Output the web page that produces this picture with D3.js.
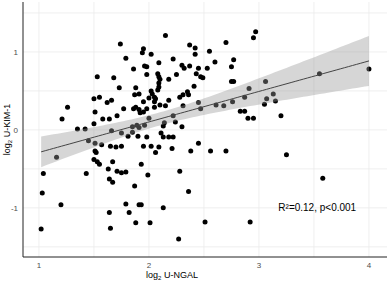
<!DOCTYPE html>
<html lang="en">
<head>
  <meta charset="UTF-8">
  <title>U-KIM-1 vs U-NGAL</title>
  <script src="https://d3js.org/d3.v7.min.js"></script>
  <style>
    body { margin: 0; background: #fff; font-family: "Liberation Sans", Arial, sans-serif; }
    .grid line { stroke: #ebebeb; stroke-width: 0.8px; }
    .tick-label { font-size: 8px; fill: #4d4d4d; }
    .axis-title { font-size: 9px; fill: #000; }
  </style>
</head>
<body>
  <svg width="387" height="281"></svg>
  <script>
    // log2 U-NGAL
    var xValues = [
      1.02, 1.03, 1.04, 1.16, 1.20, 1.21, 1.26, 1.35, 1.42, 1.43, 1.45, 1.50, 1.50, 1.51, 1.51, 1.51,
      1.53, 1.52, 1.50, 1.53, 1.55, 1.55, 1.57, 1.58, 1.62, 1.64, 1.64, 1.64, 1.65, 1.65, 1.66, 1.66,
      1.67, 1.67, 1.63, 1.68, 1.70, 1.71, 1.71, 1.73, 1.74, 1.75, 1.75, 1.75, 1.77, 1.79, 1.79, 1.79,
      1.81, 1.82,
      1.85, 1.85, 1.86, 1.86, 1.87, 1.87, 1.88, 1.88, 1.91, 1.92, 1.95, 1.88, 1.89, 1.91, 1.90, 1.91,
      1.91, 1.93, 1.93, 1.94, 1.95, 1.95, 1.95, 1.96, 1.96, 1.98, 1.98, 1.98, 1.98, 1.99, 2.00, 2.02,
      2.03, 2.05, 2.06, 2.05, 2.00, 2.01, 2.02, 2.02, 2.05, 2.06, 2.08, 2.09, 2.10, 2.09, 2.09, 2.09,
      2.08, 2.09, 2.10, 2.11, 2.13, 2.14, 2.13, 2.13, 2.15, 2.15, 2.18, 2.18, 2.18, 2.21, 2.22, 2.22,
      2.22, 2.24, 2.25, 2.27, 2.28, 2.28, 2.30, 2.32, 2.30, 2.31, 2.31, 2.35, 2.36, 2.36, 2.37, 2.37,
      2.38, 2.41, 2.42, 2.42, 2.43, 2.45, 2.45,
      2.45, 2.47, 2.49, 2.47, 2.51, 2.53, 2.55, 2.56, 2.60, 2.61, 2.68, 2.70, 2.70, 2.75, 2.76, 2.77,
      2.75, 2.77, 2.83, 2.87, 2.87, 2.90, 2.95, 2.91, 2.92, 2.95, 2.97, 3.05, 3.06, 3.07, 3.13, 3.15,
      3.20, 3.25, 3.55, 3.58, 4.00
    ];
    // log2 U-KIM-1
    var yValues = [
      -1.27, -0.81, -0.56, -0.35, -0.96, 0.14, 0.29, 0.01, 0.01, -0.56, -0.14, 0.08, 0.40, 0.23, -0.17, -0.27,
      0.68, -0.29, -0.38, -0.41, -0.44, 0.42, -0.19, 0.14, 0.35, 0.14, -0.63, -1.06, -0.21, -1.26, 0.38, -0.01,
      -0.41, -0.67, -0.50, 0.67, -0.22, 0.18, -0.53, 0.54, 1.10, -0.55, -0.04, -0.21, 0.27, 0.92, -0.54, -0.95,
      -0.08, -1.06,
      -0.03, 0.04, 0.78, 0.27, 0.45, -0.72, 0.54, 0.29, 0.26, 0.22, 0.23, -1.19, 0.06, 0.03, -0.08, 0.46,
      -0.96, -0.96, -0.44, 0.99, 1.04, 0.36, -0.21, 0.82, 0.06, 0.81, 0.71, 0.27, -0.09, -0.58, 0.41, 0.50,
      0.46, 0.42, 0.40, 0.36, 0.15, -1.19, 0.97, -0.21, 0.29, -0.29, 0.72, 0.68, 0.65, 0.86, 0.60, 0.55,
      0.51, -0.22, 0.32, -0.04, -0.09, 0.09, 0.05, -1.00, 1.21, 0.31, 0.65, 0.38, -0.09, -0.24, 0.91, 0.18,
      -0.09, 0.10, 0.71, -1.40, 0.42, -0.53, 0.83, 0.79, 0.04, 0.45, 0.31, 0.49, 0.45, -0.79, 1.09, 0.82,
      -0.27, 0.56, 1.05, 0.97, 0.72, 0.35, -0.17,
      0.79, 0.68, 0.67, 0.27, -1.18, 0.79, 1.01, -0.27, 0.87, 0.32, 0.31, 1.12, -0.27, 0.81, 0.36, 0.90,
      0.62, 0.62, 0.24, 0.24, 0.42, 0.15, 0.15, 0.53, -1.18, 1.18, 1.26, 0.33, 0.62, 0.40, 0.46, 0.37,
      0.18, -0.32, 0.72, -0.62, 0.78
    ];
    var xTicks = [1, 2, 3, 4];
    var yTicks = [-1, 0, 1];
    var xMinor = [1.5, 2.5, 3.5];
    var yMinor = [-1.5, -0.5, 0.5, 1.5];
    var statLabel = "R\u00b2=0.12, p<0.001";

    var svg = d3.select("svg"),
        panel = {left: 23, right: 387, top: 2, bottom: 257};

    var x = d3.scaleLinear().domain([0.855, 4.164]).range([panel.left, panel.right]),
        y = d3.scaleLinear().domain([-1.63, 1.64]).range([panel.bottom, panel.top]);

    var data = xValues.map(function(v, i) { return {x: v, y: yValues[i]}; });

    // gridlines
    var grid = svg.append("g").attr("class", "grid");
    grid.selectAll(".vx").data(xTicks.concat(xMinor)).enter().append("line")
        .attr("x1", function(d) { return x(d); }).attr("x2", function(d) { return x(d); })
        .attr("y1", panel.top).attr("y2", panel.bottom);
    grid.selectAll(".hy").data(yTicks.concat(yMinor)).enter().append("line")
        .attr("x1", panel.left).attr("x2", panel.right)
        .attr("y1", function(d) { return y(d); }).attr("y2", function(d) { return y(d); });

    // points
    svg.append("g").selectAll("circle")
        .data(data).enter().append("circle")
        .attr("cx", function(d) { return x(d.x); })
        .attr("cy", function(d) { return y(d.y); })
        .attr("r", 2.5)
        .attr("fill", "#000");

    // linear fit with 95% confidence band
    var n = data.length,
        mx = d3.mean(xValues), my = d3.mean(yValues),
        sxx = d3.sum(xValues, function(v) { return (v - mx) * (v - mx); }),
        sxy = d3.sum(data, function(d) { return (d.x - mx) * (d.y - my); }),
        slope = sxy / sxx,
        intercept = my - slope * mx,
        sse = d3.sum(data, function(d) { var r = d.y - (intercept + slope * d.x); return r * r; }),
        s = Math.sqrt(sse / (n - 2)),
        tval = 1.974;

    var xs = d3.range(0, 81).map(function(i) {
      var lo = d3.min(xValues), hi = d3.max(xValues);
      return lo + (hi - lo) * i / 80;
    });
    var fit = xs.map(function(v) {
      var yhat = intercept + slope * v,
          se = s * Math.sqrt(1 / n + (v - mx) * (v - mx) / sxx);
      return {x: v, y: yhat, lo: yhat - tval * se, hi: yhat + tval * se};
    });

    svg.append("path")
        .datum(fit)
        .attr("d", d3.area()
          .x(function(d) { return x(d.x); })
          .y0(function(d) { return y(d.lo); })
          .y1(function(d) { return y(d.hi); }))
        .attr("fill", "#999999")
        .attr("fill-opacity", 0.4);

    svg.append("path")
        .datum(fit)
        .attr("d", d3.line()
          .x(function(d) { return x(d.x); })
          .y(function(d) { return y(d.y); }))
        .attr("fill", "none")
        .attr("stroke", "#444")
        .attr("stroke-width", 1);

    // axis lines
    svg.append("line").attr("x1", panel.left).attr("x2", panel.left)
        .attr("y1", panel.top).attr("y2", panel.bottom)
        .attr("stroke", "#222").attr("stroke-width", 1);
    svg.append("line").attr("x1", panel.left).attr("x2", panel.right)
        .attr("y1", panel.bottom).attr("y2", panel.bottom)
        .attr("stroke", "#222").attr("stroke-width", 1);

    // tick labels
    svg.selectAll(".xl").data(xTicks).enter().append("text")
        .attr("class", "tick-label")
        .attr("x", function(d) { return x(d); })
        .attr("y", panel.bottom + 11)
        .attr("text-anchor", "middle")
        .text(function(d) { return d; });
    svg.selectAll(".yl").data(yTicks).enter().append("text")
        .attr("class", "tick-label")
        .attr("x", panel.left - 5)
        .attr("y", function(d) { return y(d) + 3; })
        .attr("text-anchor", "end")
        .text(function(d) { return d; });

    // axis titles
    var xt = svg.append("text").attr("class", "axis-title")
        .attr("x", 172).attr("y", 278).attr("text-anchor", "middle");
    xt.append("tspan").text("log");
    xt.append("tspan").attr("font-size", "6px").attr("dy", 2).text("2");
    xt.append("tspan").attr("dy", -2).text(" U-NGAL");

    var yt = svg.append("text").attr("class", "axis-title")
        .attr("transform", "translate(10," + ((panel.top + panel.bottom) / 2) + ") rotate(-90)")
        .attr("text-anchor", "middle");
    yt.append("tspan").text("log");
    yt.append("tspan").attr("font-size", "6px").attr("dy", 2).text("2");
    yt.append("tspan").attr("dy", -2).text(" U-KIM-1");

    // annotation
    svg.append("text")
        .attr("x", x(3.53)).attr("y", y(-1.0))
        .attr("dy", "0.35em")
        .attr("text-anchor", "middle")
        .attr("font-size", "10px")
        .attr("fill", "#000")
        .text(statLabel);
  </script>
</body>
</html>
